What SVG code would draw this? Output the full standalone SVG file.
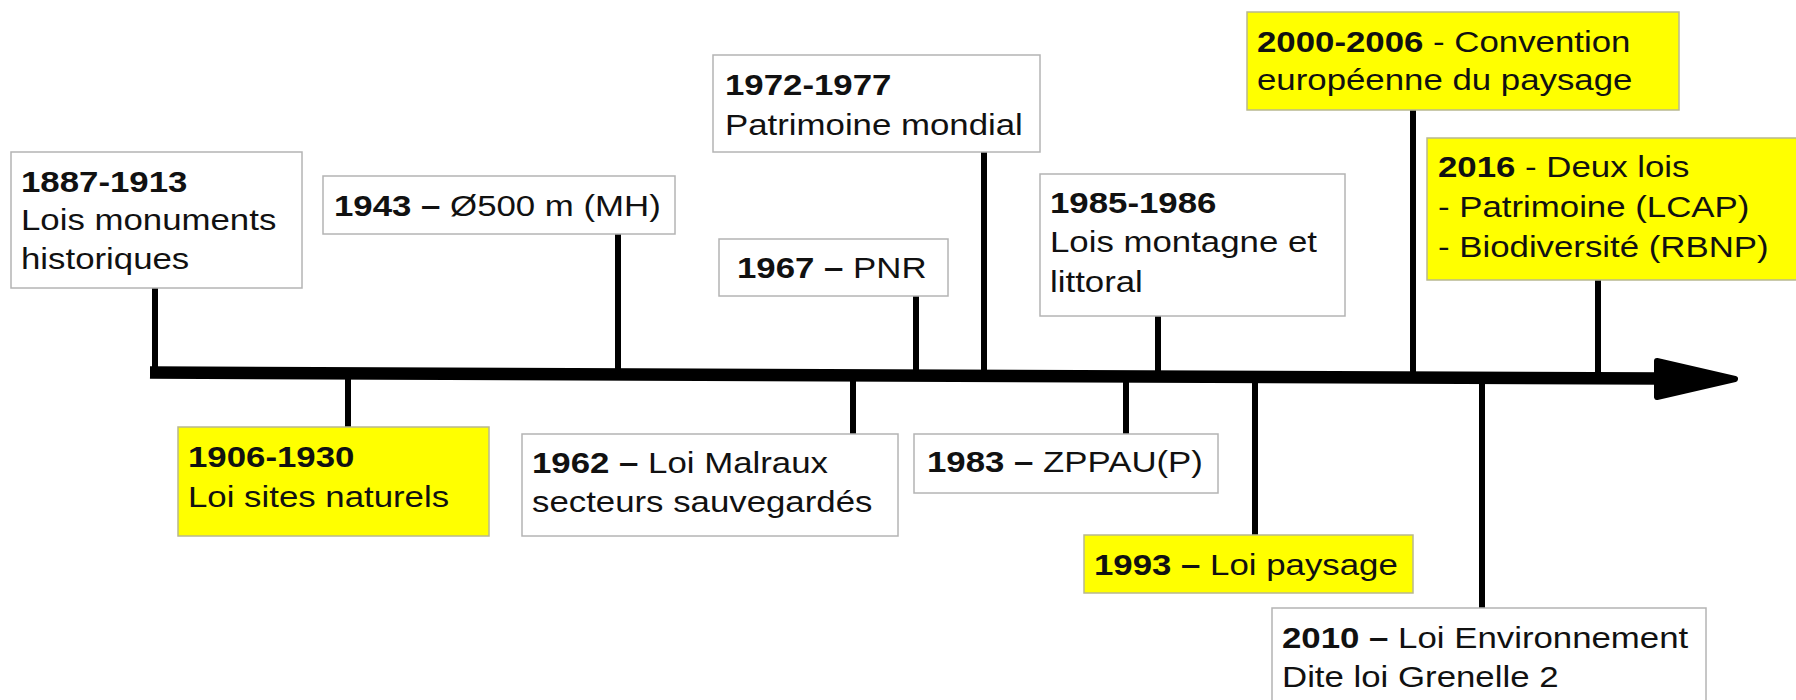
<svg xmlns="http://www.w3.org/2000/svg" width="1796" height="700" viewBox="0 0 1796 700">
<style>
.box{fill:#ffffff;stroke:#b4b4b4;stroke-width:1.5}
.hl{fill:#ffff00;stroke:#b8b890;stroke-width:1.5}
.t{font-family:"Liberation Sans",Arial,sans-serif;font-size:29.5px;fill:#111}
.b{font-weight:bold}
.c{stroke:#000;stroke-width:6;fill:none}
.axis{stroke:#000;stroke-width:12.5;fill:none}
</style>
<rect width="1796" height="700" fill="#ffffff"/>
<g id="connectors">
<path class="axis" d="M150 372.5 L1662 378.5"/>
<polygon points="1657,361 1735,379 1657,397" fill="#000" stroke="#000" stroke-width="6" stroke-linejoin="round"/>
<line class="c" x1="155" y1="288" x2="155" y2="373"/>
<line class="c" x1="348" y1="372" x2="348" y2="427"/>
<line class="c" x1="618" y1="234" x2="618" y2="374"/>
<line class="c" x1="853" y1="374" x2="853" y2="434"/>
<line class="c" x1="916" y1="296" x2="916" y2="375"/>
<line class="c" x1="984" y1="152" x2="984" y2="375"/>
<line class="c" x1="1126" y1="376" x2="1126" y2="434"/>
<line class="c" x1="1158" y1="316" x2="1158" y2="376"/>
<line class="c" x1="1255" y1="376" x2="1255" y2="535"/>
<line class="c" x1="1413" y1="110" x2="1413" y2="377"/>
<line class="c" x1="1482" y1="377" x2="1482" y2="608"/>
<line class="c" x1="1598" y1="280" x2="1598" y2="378"/>
</g>
<g id="n1887">
<rect class="box" x="11" y="152" width="291" height="136"/>
<text class="t" transform="translate(21,192) scale(1.18,1)"><tspan class="b" x="0">1887-1913</tspan><tspan x="0" dy="38.5">Lois monuments</tspan><tspan x="0" dy="38.5">historiques</tspan></text>
</g>
<g id="n1906">
<rect class="hl" x="178" y="427" width="311" height="109"/>
<text class="t" transform="translate(188,467) scale(1.18,1)"><tspan class="b" x="0">1906-1930</tspan><tspan x="0" dy="40">Loi sites naturels</tspan></text>
</g>
<g id="n1943">
<rect class="box" x="323" y="176" width="352" height="58"/>
<text class="t" transform="translate(334,216) scale(1.18,1)"><tspan class="b">1943 –</tspan> Ø500 m (MH)</text>
</g>
<g id="n1962">
<rect class="box" x="522" y="434" width="376" height="102"/>
<text class="t" transform="translate(532,473) scale(1.18,1)"><tspan x="0"><tspan class="b">1962 –</tspan> Loi Malraux</tspan><tspan x="0" dy="39">secteurs sauvegardés</tspan></text>
</g>
<g id="n1967">
<rect class="box" x="719" y="239" width="229" height="57"/>
<text class="t" transform="translate(737,278) scale(1.18,1)"><tspan class="b">1967 –</tspan> PNR</text>
</g>
<g id="n1972">
<rect class="box" x="713" y="55" width="327" height="97"/>
<text class="t" transform="translate(725,95) scale(1.18,1)"><tspan class="b" x="0">1972-1977</tspan><tspan x="0" dy="40.5">Patrimoine mondial</tspan></text>
</g>
<g id="n1983">
<rect class="box" x="914" y="434" width="304" height="59"/>
<text class="t" transform="translate(927,472) scale(1.18,1)"><tspan class="b">1983 –</tspan> ZPPAU(P)</text>
</g>
<g id="n1985">
<rect class="box" x="1040" y="174" width="305" height="142"/>
<text class="t" transform="translate(1050,213) scale(1.18,1)"><tspan class="b" x="0">1985-1986</tspan><tspan x="0" dy="39.5">Lois montagne et</tspan><tspan x="0" dy="39.5">littoral</tspan></text>
</g>
<g id="n1993">
<rect class="hl" x="1084" y="535" width="329" height="58"/>
<text class="t" transform="translate(1094,575) scale(1.18,1)"><tspan class="b">1993 –</tspan> Loi paysage</text>
</g>
<g id="n2000">
<rect class="hl" x="1247" y="12" width="432" height="98"/>
<text class="t" transform="translate(1257,52) scale(1.18,1)"><tspan x="0"><tspan class="b">2000-2006</tspan> - Convention</tspan><tspan x="0" dy="38.5">européenne du paysage</tspan></text>
</g>
<g id="n2010">
<rect class="box" x="1272" y="608" width="434" height="110"/>
<text class="t" transform="translate(1282,648) scale(1.18,1)"><tspan x="0"><tspan class="b">2010 –</tspan> Loi Environnement</tspan><tspan x="0" dy="39">Dite loi Grenelle 2</tspan></text>
</g>
<g id="n2016">
<rect class="hl" x="1427" y="138" width="380" height="142"/>
<text class="t" transform="translate(1438,177) scale(1.18,1)"><tspan x="0"><tspan class="b">2016</tspan> - Deux lois</tspan><tspan x="0" dy="40">- Patrimoine (LCAP)</tspan><tspan x="0" dy="40">- Biodiversité (RBNP)</tspan></text>
</g>
</svg>
